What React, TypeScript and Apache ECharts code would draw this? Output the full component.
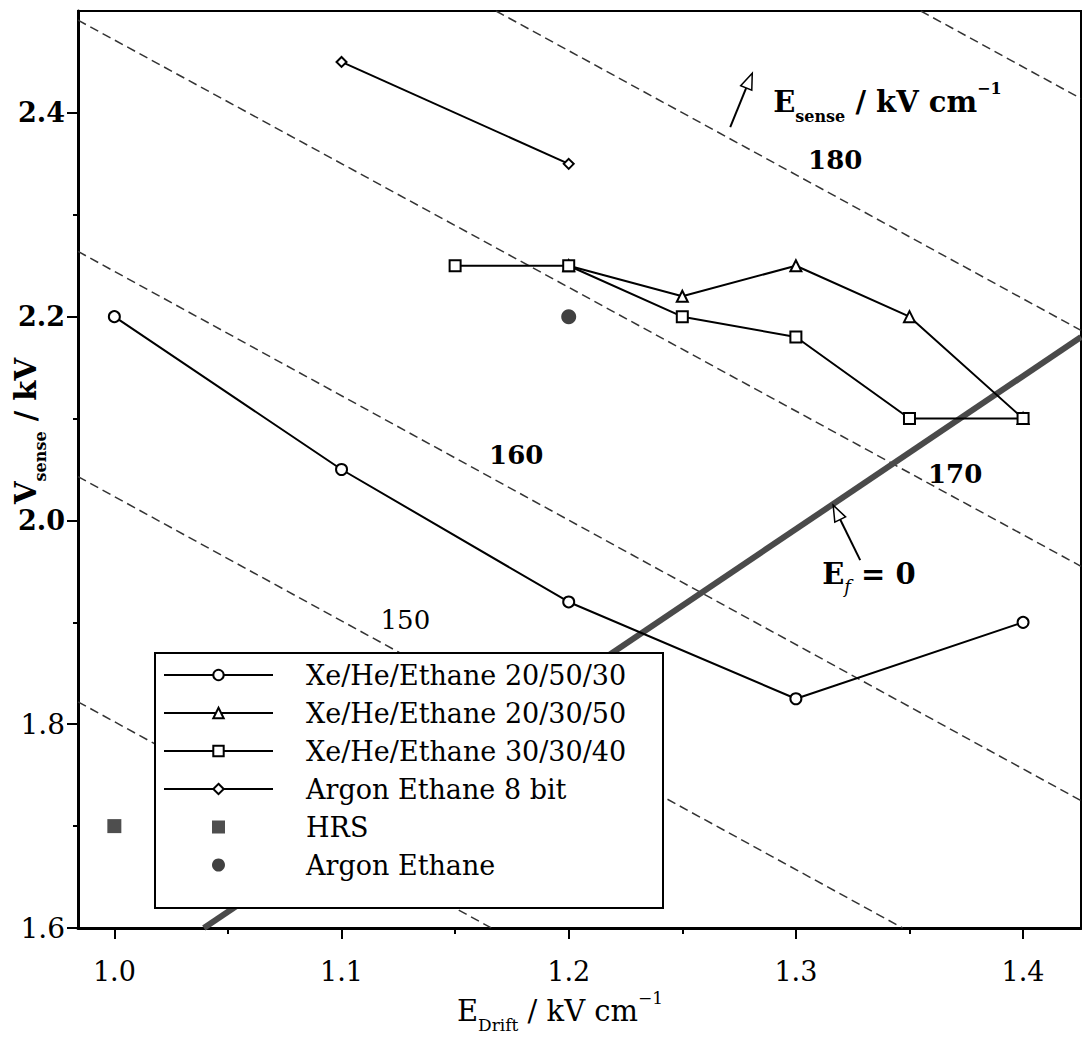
import React, { useEffect, useRef } from "react";
import * as echarts from "echarts";

const SERIF = '"DejaVu Serif", "Liberation Serif", serif';

// ---- axes ----
const xMin = 0.984;
const xMax = 1.4255;
const yMin = 1.6;
const yMax = 2.5;
const xLabelTicks = [1.0, 1.1, 1.2, 1.3, 1.4];
const xHalfTicks = [1.05, 1.15, 1.25, 1.35];
const yLabelTicks = [1.6, 1.8, 2.0, 2.2, 2.4];
const yHalfTicks = [1.7, 1.9, 2.1, 2.3];

// ---- series ----
const seriesNames = [
  "Xe/He/Ethane 20/50/30",
  "Xe/He/Ethane 20/30/50",
  "Xe/He/Ethane 30/30/40",
  "Argon Ethane 8 bit",
  "HRS",
  "Argon Ethane",
];
const eDrift205030 = [1.0, 1.1, 1.2, 1.3, 1.4];
const vSense205030 = [2.2, 2.05, 1.92, 1.825, 1.9];
const eDrift203050 = [1.2, 1.25, 1.3, 1.35, 1.4];
const vSense203050 = [2.25, 2.22, 2.25, 2.2, 2.1];
const eDrift303040 = [1.15, 1.2, 1.25, 1.3, 1.35, 1.4];
const vSense303040 = [2.25, 2.25, 2.2, 2.18, 2.1, 2.1];
const eDriftAr8 = [1.1, 1.2];
const vSenseAr8 = [2.45, 2.35];
const eDriftHRS = [1.0];
const vSenseHRS = [1.7];
const eDriftArEth = [1.2];
const vSenseArEth = [2.2];

// ---- constant E_sense contours (kV/cm), endpoints ----
const esLevels = [140, 150, 160, 170, 180, 190];
const esLineStart = [
  [0.984, 1.822],
  [0.984, 2.043],
  [0.984, 2.264],
  [0.984, 2.491],
  [1.168, 2.5],
  [1.355, 2.5],
];
const esLineEnd = [
  [1.166, 1.6],
  [1.347, 1.6],
  [1.4255, 1.725],
  [1.4255, 1.955],
  [1.4255, 2.1865],
  [1.4255, 2.414],
];
// ---- E_f = 0 line ----
const efZeroLine = [
  [1.0394, 1.6],
  [1.4255, 2.18],
];

// ---- annotations (data coordinates) ----
const contourLabels = ["180", "170", "160", "150"];
const contourLabelPos = [
  [1.3173, 2.3536],
  [1.3701, 2.0456],
  [1.1769, 2.0642],
  [1.1281, 1.9024],
];
const contourLabelBold = [true, true, true, false];
const esenseTextPos = [1.29, 2.4105];
const efTextPos = [1.3116, 1.9478];
const arrowTails = [
  [1.2711, 2.386],
  [1.3283, 1.961],
];
const arrowTips = [
  [1.2808, 2.439],
  [1.3164, 2.015],
];

const zip = (a: number[], b: number[]) => a.map((v, i) => [v, b[i]]);

function arrow(tail: number[], tip: number[], L: number, W: number) {
  const dx = tip[0] - tail[0];
  const dy = tip[1] - tail[1];
  const len = Math.hypot(dx, dy);
  const ux = dx / len;
  const uy = dy / len;
  const nx = -uy;
  const ny = ux;
  const bx = tip[0] - ux * L;
  const by = tip[1] - uy * L;
  return [
    {
      type: "line",
      z: 30,
      shape: { x1: tail[0], y1: tail[1], x2: bx, y2: by },
      style: { stroke: "#000", lineWidth: 2 },
    },
    {
      type: "polygon",
      z: 30,
      shape: {
        points: [
          [tip[0], tip[1]],
          [bx + nx * W, by + ny * W],
          [bx - nx * W, by - ny * W],
        ],
      },
      style: { fill: "#fff", stroke: "#000", lineWidth: 1.5 },
    },
  ];
}

export default function App() {
  const ref = useRef<HTMLDivElement>(null);

  useEffect(() => {
    const el = ref.current!;
    const chart = echarts.init(el, null, { renderer: "svg" });

    const lineSeries = (
      name: string,
      xs: number[],
      ys: number[],
      symbol: string,
      size: number
    ) => ({
      type: "line",
      name,
      z: 3,
      data: zip(xs, ys),
      symbol,
      symbolSize: size,
      showAllSymbol: true,
      lineStyle: { color: "#000", width: 2 },
      itemStyle: { color: "#000", borderWidth: 1.5 },
      emphasis: { disabled: true },
    });

    const option: any = {
      animation: false,
      backgroundColor: "#fff",
      grid: {
        left: 78,
        right: 1,
        top: 11,
        bottom: 112,
        show: true,
        borderColor: "#000",
        borderWidth: 2,
        backgroundColor: "transparent",
      },
      xAxis: [
        {
          type: "value",
          min: xMin,
          max: xMax,
          position: "bottom",
          axisLine: { show: true, onZero: false, lineStyle: { color: "#000", width: 3 } },
          axisTick: {
            show: true,
            customValues: xLabelTicks,
            length: 11,
            lineStyle: { color: "#000", width: 2 },
          },
          axisLabel: {
            show: true,
            customValues: xLabelTicks,
            formatter: (v: number) => v.toFixed(1),
            margin: 30,
            fontSize: 27,
            fontFamily: SERIF,
            color: "#000",
          },
          splitLine: { show: false },
        },
        {
          type: "value",
          min: xMin,
          max: xMax,
          position: "bottom",
          axisLine: { show: false, onZero: false },
          axisTick: {
            show: true,
            customValues: xHalfTicks,
            length: 6,
            lineStyle: { color: "#000", width: 2 },
          },
          axisLabel: { show: false },
          splitLine: { show: false },
        },
      ],
      yAxis: [
        {
          type: "value",
          min: yMin,
          max: yMax,
          position: "left",
          axisLine: { show: true, onZero: false, lineStyle: { color: "#000", width: 3 } },
          axisTick: {
            show: true,
            customValues: yLabelTicks,
            length: 11,
            lineStyle: { color: "#000", width: 2 },
          },
          axisLabel: {
            show: true,
            customValues: yLabelTicks,
            margin: 13,
            formatter: (v: number) =>
              v >= 1.95 ? `{b|${v.toFixed(1)}}` : `{n|${v.toFixed(1)}}`,
            rich: {
              b: { fontSize: 27, fontWeight: "bold", fontFamily: SERIF, color: "#000" },
              n: { fontSize: 28, fontFamily: SERIF, color: "#000" },
            },
          },
          splitLine: { show: false },
        },
        {
          type: "value",
          min: yMin,
          max: yMax,
          position: "left",
          axisLine: { show: false, onZero: false },
          axisTick: {
            show: true,
            customValues: yHalfTicks,
            length: 5,
            lineStyle: { color: "#000", width: 2 },
          },
          axisLabel: { show: false },
          splitLine: { show: false },
        },
      ],
      legend: {
        show: true,
        z: 20,
        orient: "vertical",
        left: 155,
        top: 653,
        padding: [8, 14, 27, 8],
        itemWidth: 109,
        itemHeight: 13,
        itemGap: 10,
        selectedMode: false,
        data: [
          { name: seriesNames[0] },
          { name: seriesNames[1] },
          { name: seriesNames[2] },
          { name: seriesNames[3] },
          { name: seriesNames[4], icon: "path://M0 0H10V10H0Z" },
          { name: seriesNames[5] },
        ],
        textStyle: {
          fontSize: 27,
          fontFamily: SERIF,
          color: "#000",
          lineHeight: 28,
          padding: [0, 0, 0, 28],
        },
      },
      series: [
        ...esLevels.map((lv, i) => ({
          type: "line",
          name: `E_sense ${lv}`,
          z: 1,
          data: [esLineStart[i], esLineEnd[i]],
          symbol: "none",
          silent: true,
          lineStyle: { type: [9, 5], width: 1.5, color: "#333" },
        })),
        {
          type: "line",
          name: "E_f = 0",
          z: 2,
          data: efZeroLine,
          symbol: "none",
          silent: true,
          lineStyle: { width: 6, color: "#4a4a4a" },
        },
        lineSeries(seriesNames[0], eDrift205030, vSense205030, "emptyCircle", 11),
        lineSeries(seriesNames[1], eDrift203050, vSense203050, "emptyTriangle", 11),
        lineSeries(seriesNames[2], eDrift303040, vSense303040, "emptyRect", 11),
        lineSeries(seriesNames[3], eDriftAr8, vSenseAr8, "emptyDiamond", 10),
        {
          type: "scatter",
          name: seriesNames[4],
          z: 3,
          data: zip(eDriftHRS, vSenseHRS),
          symbol: "rect",
          symbolSize: 14,
          itemStyle: { color: "#222" },
        },
        {
          type: "scatter",
          name: seriesNames[5],
          z: 3,
          data: zip(eDriftArEth, vSenseArEth),
          symbol: "circle",
          symbolSize: 15,
          itemStyle: { color: "#111" },
        },
      ],
    };

    chart.setOption(option);

    const toPx = (p: number[]) =>
      chart.convertToPixel({ gridIndex: 0 }, p) as unknown as number[];

    const graphics: any[] = [];
    // legend frame
    graphics.push({
      type: "rect",
      z: 10,
      shape: { x: 155, y: 653, width: 508, height: 255 },
      style: { fill: "#fff", stroke: "#000", lineWidth: 2 },
    });

    contourLabels.forEach((t, i) => {
      const p = toPx(contourLabelPos[i]);
      graphics.push({
        type: "text",
        z: 30,
        x: p[0],
        y: p[1],
        style: {
          text: t,
          fontSize: 26,
          fontWeight: contourLabelBold[i] ? "bold" : "normal",
          fontFamily: SERIF,
          fill: "#000",
          align: "center",
          verticalAlign: "middle",
        },
      });
    });

    arrowTails.forEach((tl, i) => {
      const a = toPx(tl);
      const b = toPx(arrowTips[i]);
      graphics.push(...arrow(a, b, 16, 6));
    });

    const richBold = {
      m: { fontSize: 29, fontWeight: "bold", fontFamily: SERIF, lineHeight: 44, fill: "#000" },
      s: {
        fontSize: 16,
        fontWeight: "bold",
        fontFamily: SERIF,
        lineHeight: 16,
        verticalAlign: "bottom",
        fill: "#000",
      },
      p: {
        fontSize: 16,
        fontWeight: "bold",
        fontFamily: SERIF,
        lineHeight: 16,
        verticalAlign: "top",
        fill: "#000",
      },
      i: {
        fontSize: 18,
        fontStyle: "italic",
        fontFamily: SERIF,
        lineHeight: 18,
        verticalAlign: "bottom",
        fill: "#000",
      },
    };
    const richNormal = {
      m: { fontSize: 29, fontFamily: SERIF, lineHeight: 44, fill: "#000" },
      s: { fontSize: 17, fontFamily: SERIF, lineHeight: 16, verticalAlign: "bottom", fill: "#000" },
      p: { fontSize: 17, fontFamily: SERIF, lineHeight: 16, verticalAlign: "top", fill: "#000" },
    };

    const pe = toPx(esenseTextPos);
    graphics.push({
      type: "text",
      z: 30,
      x: pe[0],
      y: pe[1],
      style: {
        text: "{m|E}{s|sense}{m| / kV cm}{p|−1}",
        rich: richBold,
        align: "left",
        verticalAlign: "middle",
      },
    });

    const pf = toPx(efTextPos);
    graphics.push({
      type: "text",
      z: 30,
      x: pf[0],
      y: pf[1],
      style: {
        text: "{m|E}{i|f}{m| = 0}",
        rich: richBold,
        align: "left",
        verticalAlign: "middle",
      },
    });

    // axis titles
    graphics.push({
      type: "text",
      z: 30,
      x: 560,
      y: 1011,
      style: {
        text: "{m|E}{s|Drift}{m| / kV cm}{p|−1}",
        rich: richNormal,
        align: "center",
        verticalAlign: "middle",
      },
    });
    graphics.push({
      type: "text",
      z: 30,
      x: 26,
      y: 431,
      rotation: Math.PI / 2,
      style: {
        text: "{m|V}{s|sense}{m| / kV}",
        rich: richBold,
        align: "center",
        verticalAlign: "middle",
      },
    });

    chart.setOption({ graphic: graphics });

    return () => chart.dispose();
  }, []);

  return (
    <div
      ref={ref}
      style={{ position: "fixed", left: 0, top: 0, width: 1082, height: 1040, background: "#fff" }}
    />
  );
}
